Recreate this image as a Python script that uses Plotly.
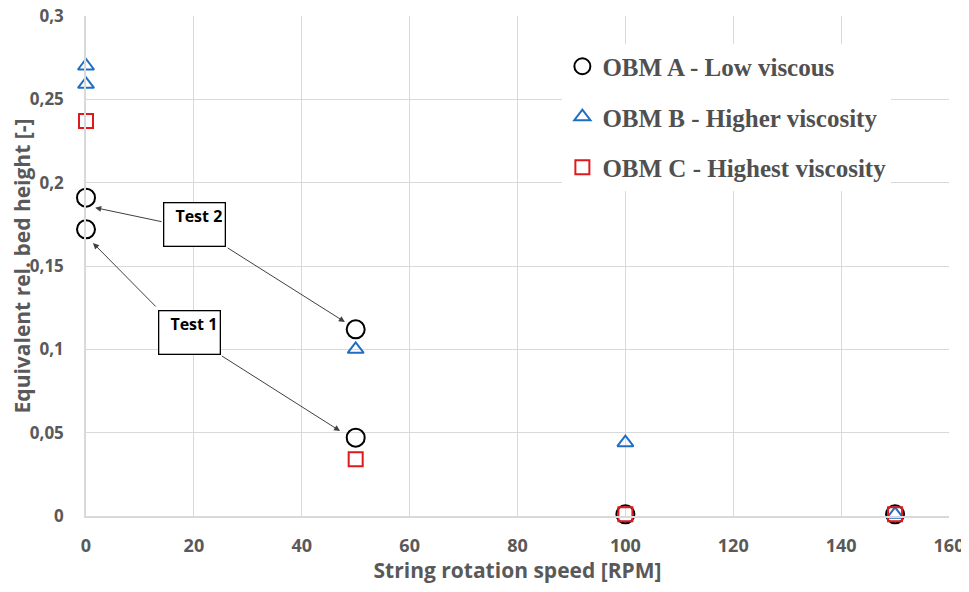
import plotly.graph_objects as go

# string rotation speed [RPM] and equivalent relative bed height [-]
rpm_a = [0, 0, 50, 50, 100, 150]
bed_a = [0.191, 0.172, 0.112, 0.047, 0.001, 0.001]

rpm_b = [0, 0, 50, 100, 150]
bed_b = [0.270, 0.259, 0.100, 0.044, 0.001]

rpm_c = [0, 50, 100, 150]
bed_c = [0.237, 0.034, 0.001, 0.001]

x_ticks = [0, 20, 40, 60, 80, 100, 120, 140, 160]
y_ticks = [0, 0.05, 0.1, 0.15, 0.2, 0.25, 0.3]
y_labels = ['0', '0,05', '0,1', '0,15', '0,2', '0,25', '0,3']

GRID = '#d9d9d9'
TXT = '#595959'

fig = go.Figure()
fig.add_trace(go.Scatter(x=rpm_a, y=bed_a, mode='markers', name='OBM A - Low viscous',
                         legendgroup='a',
                         marker=dict(symbol='circle-open', size=18, color='black',
                                     line=dict(width=2))))
fig.add_trace(go.Scatter(x=rpm_b, y=bed_b, mode='markers', name='OBM B - Higher viscosity',
                         legendgroup='b',
                         marker=dict(symbol='triangle-up-open', size=14, color='#1f6ec4',
                                     line=dict(width=2))))
fig.add_trace(go.Scatter(x=rpm_c, y=bed_c, mode='markers', name='OBM C - Highest viscosity',
                         legendgroup='c',
                         marker=dict(symbol='square-open', size=14, color='#e0191f',
                                     line=dict(width=2))))

# labelled boxes and their arrows (data units)
boxes = [('Test 2', 20.1, 0.1749), ('Test 1', 19.1, 0.1101)]
arrows = [
    (14.3, 0.1764, 1.7, 0.185),
    (26.0, 0.1614, 48.0, 0.1164),
    (13.2, 0.1248, 1.3, 0.1638),
    (24.9, 0.0966, 47.1, 0.051),
]
for tail_x, tail_y, head_x, head_y in arrows:
    fig.add_annotation(x=head_x, y=head_y, ax=tail_x, ay=tail_y, xref='x', yref='y',
                       axref='x', ayref='y', text='', showarrow=True, arrowhead=2,
                       arrowsize=1.2, arrowwidth=1, arrowcolor='#404040')
for label, bx, by in boxes:
    fig.add_annotation(x=bx, y=by, xref='x', yref='y', text='<b>' + label + '</b>',
                       showarrow=False, bgcolor='white', bordercolor='black', borderwidth=1.3,
                       width=56, height=38, valign='top', align='right', borderpad=2,
                       font=dict(family='Open Sans', size=16, color='black'))

# page body adds an 8px offset, so the figure is a bit smaller than the window
fig.update_layout(
    width=961, height=576,
    margin=dict(l=78, r=20, t=8, b=68),
    plot_bgcolor='white', paper_bgcolor='white',
    font=dict(family='Open Sans', color=TXT),
    legend=dict(x=0.552, y=0.945, xanchor='left', yanchor='top', bgcolor='white',
                tracegroupgap=15, borderwidth=0, itemwidth=30,
                font=dict(family='Liberation Serif', size=25, color='#505050', weight='bold')),
    xaxis=dict(range=[0, 160], tickvals=x_ticks, showgrid=True, gridcolor=GRID, gridwidth=1,
               zeroline=False, showline=True, linecolor=GRID, linewidth=1.5, automargin=False,
               ticks='', ticklabelstandoff=13, ticklabeloverflow='allow',
               tickfont=dict(size=18, color=TXT, weight='bold'),
               title=dict(text='String rotation speed [RPM]', standoff=22,
                          font=dict(size=21, color=TXT, weight='bold'))),
    yaxis=dict(range=[0, 0.3], tickvals=y_ticks, ticktext=y_labels, showgrid=True,
               gridcolor=GRID, gridwidth=1, zeroline=False, showline=True, linecolor=GRID,
               linewidth=1.5, automargin=False, ticks='', ticklabelstandoff=17,
               ticklabeloverflow='allow',
               tickfont=dict(size=17, color=TXT, weight='bold'),
               title=dict(text='Equivalent rel. bed height [-]', standoff=0,
                          font=dict(size=21, color=TXT, weight='bold'))),
)
fig.update_traces(cliponaxis=False)

fig.write_html('out.html')
